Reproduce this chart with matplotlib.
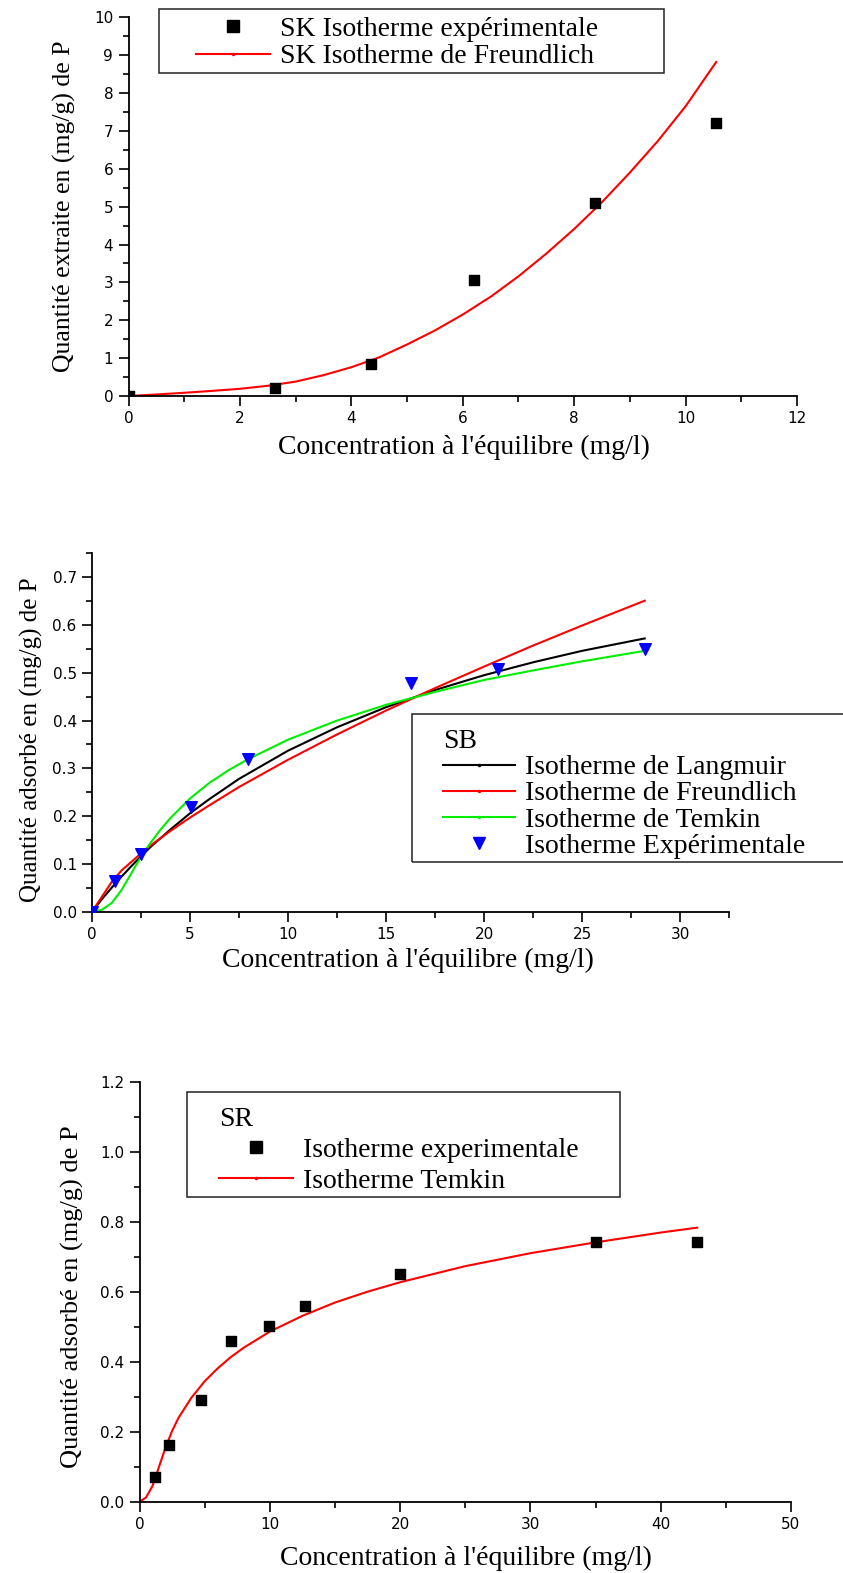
import matplotlib
matplotlib.use("Agg")
import matplotlib.pyplot as plt
from matplotlib.lines import Line2D
from matplotlib.patches import Rectangle
from matplotlib.ticker import MultipleLocator

# SK : isotherme experimentale + Freundlich
sk_exp_c = [0.0, 2.63, 4.35, 6.2, 8.38, 10.55]
sk_exp_q = [0.0, 0.22, 0.85, 3.07, 5.1, 7.2]
sk_fr_c = [0, 0.5, 1, 1.5, 2, 2.5, 3, 3.5, 4, 4.5, 5, 5.5, 6, 6.5, 7, 7.5, 8, 8.5, 9, 9.5, 10, 10.55]
sk_fr_q = [0, 0.04, 0.085, 0.135, 0.19, 0.27, 0.38, 0.55, 0.76, 1.02, 1.36, 1.73, 2.15, 2.62, 3.16, 3.76,
           4.41, 5.12, 5.9, 6.73, 7.65, 8.82]

# SB : Langmuir, Freundlich, Temkin + experimentale
sb_exp_c = [0.0, 1.18, 2.48, 5.04, 7.98, 16.3, 20.7, 28.2]
sb_exp_q = [0.0, 0.065, 0.121, 0.22, 0.319, 0.478, 0.509, 0.549]
sb_lang_c = [0, 0.5, 1, 1.5, 2, 2.5, 3, 4, 5, 6, 7.5, 10, 12.5, 15, 17.5, 20, 22.5, 25, 28.2]
sb_lang_q = [0, 0.026, 0.050, 0.073, 0.095, 0.116, 0.136, 0.172, 0.206, 0.236, 0.278, 0.337, 0.386,
             0.428, 0.464, 0.495, 0.522, 0.546, 0.572]
sb_freu_c = [0, 1, 1.5, 2, 2.5, 3, 4, 5, 6, 7.5, 10, 12.5, 15, 17.5, 20, 22.5, 25, 28.2]
sb_freu_q = [0, 0.062, 0.086, 0.104, 0.122, 0.139, 0.169, 0.197, 0.223, 0.261, 0.318, 0.371, 0.421,
             0.468, 0.513, 0.557, 0.599, 0.651]
sb_temk_c = [0, 0.5, 1, 1.5, 2, 2.5, 3, 3.5, 4, 5, 6, 7, 8, 10, 12.5, 15, 17.5, 20, 22.5, 25, 28.2]
sb_temk_q = [0, 0.004, 0.018, 0.045, 0.08, 0.115, 0.145, 0.172, 0.196, 0.237, 0.27, 0.297, 0.32, 0.36,
             0.40, 0.433, 0.46, 0.485, 0.505, 0.524, 0.546]

# SR : experimentale + Temkin
sr_exp_c = [1.16, 2.27, 4.71, 7.02, 9.92, 12.73, 20.0, 35.04, 42.8]
sr_exp_q = [0.071, 0.161, 0.29, 0.46, 0.502, 0.56, 0.651, 0.741, 0.741]
sr_temk_c = [0, 0.5, 1, 1.5, 2, 2.5, 3, 4, 5, 6, 7, 8, 10, 12.5, 15, 17.5, 20, 25, 30, 35, 40, 42.8]
sr_temk_q = [0, 0.012, 0.045, 0.1, 0.155, 0.202, 0.24, 0.298, 0.344, 0.381, 0.413, 0.44, 0.486, 0.531,
             0.569, 0.600, 0.627, 0.673, 0.710, 0.741, 0.769, 0.783]

xlab = "Concentration à l'équilibre (mg/l)"
serif = "Liberation Serif"

W, H = 843, 1573
fig = plt.figure(figsize=(W / 100, H / 100), dpi=100)


def make_axes(left, top, right, bottom):
    ax = fig.add_axes([left / W, 1 - bottom / H, (right - left) / W, (bottom - top) / H])
    ax.spines["top"].set_visible(False)
    ax.spines["right"].set_visible(False)
    for s in ("left", "bottom"):
        ax.spines[s].set_linewidth(1.3)
    ax.tick_params(which="major", direction="out", length=7, width=1.2, labelsize=11, pad=4)
    ax.tick_params(which="minor", direction="out", length=4, width=1.2)
    return ax


def box(left, top, right, bottom):
    fig.add_artist(Rectangle((left / W, 1 - bottom / H), (right - left) / W, (bottom - top) / H,
                             transform=fig.transFigure, fill=False, lw=1.1, ec="#222222"))


def leg(ax, handles, labels, x, yc, hl_px, title=None, fs=20, ls=0.06):
    fpx = fs * 100 / 72
    lg = ax.legend(handles, labels, loc="center left", bbox_to_anchor=(x / W, 1 - yc / H),
                   bbox_transform=fig.transFigure, frameon=False, borderpad=0, borderaxespad=0,
                   handlelength=hl_px / fpx, handletextpad=0.35, labelspacing=ls,
                   prop={"family": serif, "size": fs}, title=title,
                   title_fontproperties={"family": serif, "size": fs}, alignment="left")
    return lg


def line_h(color):
    return Line2D([], [], color=color, lw=1.5, marker=".", markersize=3)


# ---- SK ----
ax1 = make_axes(128.5, 17.3, 797, 396)
ax1.plot(sk_fr_c, sk_fr_q, color="red", lw=1.5)
ax1.scatter(sk_exp_c, sk_exp_q, marker="s", s=55, color="black", zorder=3)
ax1.set_xlim(0, 12)
ax1.set_ylim(0, 10)
ax1.xaxis.set_major_locator(MultipleLocator(2))
ax1.xaxis.set_minor_locator(MultipleLocator(1))
ax1.yaxis.set_major_locator(MultipleLocator(1))
ax1.yaxis.set_minor_locator(MultipleLocator(0.5))
fig.text(464 / W, 1 - 447 / H, xlab, family=serif, size=20, ha="center", va="center")
fig.text(64 / W, 1 - 206 / H, "Quantité extraite en (mg/g) de P", family=serif, size=18.5,
         rotation=90, ha="center", va="center")
box(158.5, 9.5, 663.5, 73)
leg(ax1, [Line2D([], [], ls="", marker="s", color="black", markersize=8), line_h("red")],
    ["SK Isotherme expérimentale", "SK Isotherme de Freundlich"], 196, 43, 74)

# ---- SB ----
ax2 = make_axes(92, 553.4, 729, 911.7)
ax2.plot(sb_lang_c, sb_lang_q, color="black", lw=1.5)
ax2.plot(sb_freu_c, sb_freu_q, color="red", lw=1.5)
ax2.plot(sb_temk_c, sb_temk_q, color="#00ee00", lw=1.5)
ax2.scatter(sb_exp_c, sb_exp_q, marker="v", s=70, color="blue", zorder=3)
ax2.set_xlim(0, 32.5)
ax2.set_ylim(0, 0.75)
ax2.xaxis.set_major_locator(MultipleLocator(5))
ax2.xaxis.set_minor_locator(MultipleLocator(2.5))
ax2.yaxis.set_major_locator(MultipleLocator(0.1))
ax2.yaxis.set_minor_locator(MultipleLocator(0.05))
ax2.yaxis.set_major_formatter(plt.FormatStrFormatter("%.1f"))
fig.text(408 / W, 1 - 960 / H, xlab, family=serif, size=20, ha="center", va="center")
fig.text(31 / W, 1 - 740 / H, "Quantité adsorbé en (mg/g) de P", family=serif, size=18,
         rotation=90, ha="center", va="center")
box(411.5, 714, 900, 862.5)
leg(ax2, [line_h("black"), line_h("red"), line_h("#00ee00"),
          Line2D([], [], ls="", marker="v", color="blue", markersize=9)],
    ["Isotherme de Langmuir", "Isotherme de Freundlich", "Isotherme de Temkin",
     "Isotherme Expérimentale"], 443, 794, 72, title="SB", ls=0.03)

# ---- SR ----
ax3 = make_axes(139.5, 1081.7, 791, 1501.7)
ax3.plot(sr_temk_c, sr_temk_q, color="red", lw=1.5)
ax3.scatter(sr_exp_c, sr_exp_q, marker="s", s=55, color="black", zorder=3)
ax3.set_xlim(0, 50)
ax3.set_ylim(0, 1.2)
ax3.xaxis.set_major_locator(MultipleLocator(10))
ax3.xaxis.set_minor_locator(MultipleLocator(5))
ax3.yaxis.set_major_locator(MultipleLocator(0.2))
ax3.yaxis.set_minor_locator(MultipleLocator(0.1))
ax3.yaxis.set_major_formatter(plt.FormatStrFormatter("%.1f"))
fig.text(466 / W, 1 - 1558 / H, xlab, family=serif, size=20, ha="center", va="center")
fig.text(72 / W, 1 - 1297 / H, "Quantité adsorbé en (mg/g) de P", family=serif, size=19,
         rotation=90, ha="center", va="center")
box(186.5, 1091.7, 620, 1197)
leg(ax3, [Line2D([], [], ls="", marker="s", color="black", markersize=8), line_h("red")],
    ["Isotherme experimentale", "Isotherme Temkin"], 219, 1150.5, 74, title="SR", ls=0.2)

fig.savefig("out.png", dpi=100)
